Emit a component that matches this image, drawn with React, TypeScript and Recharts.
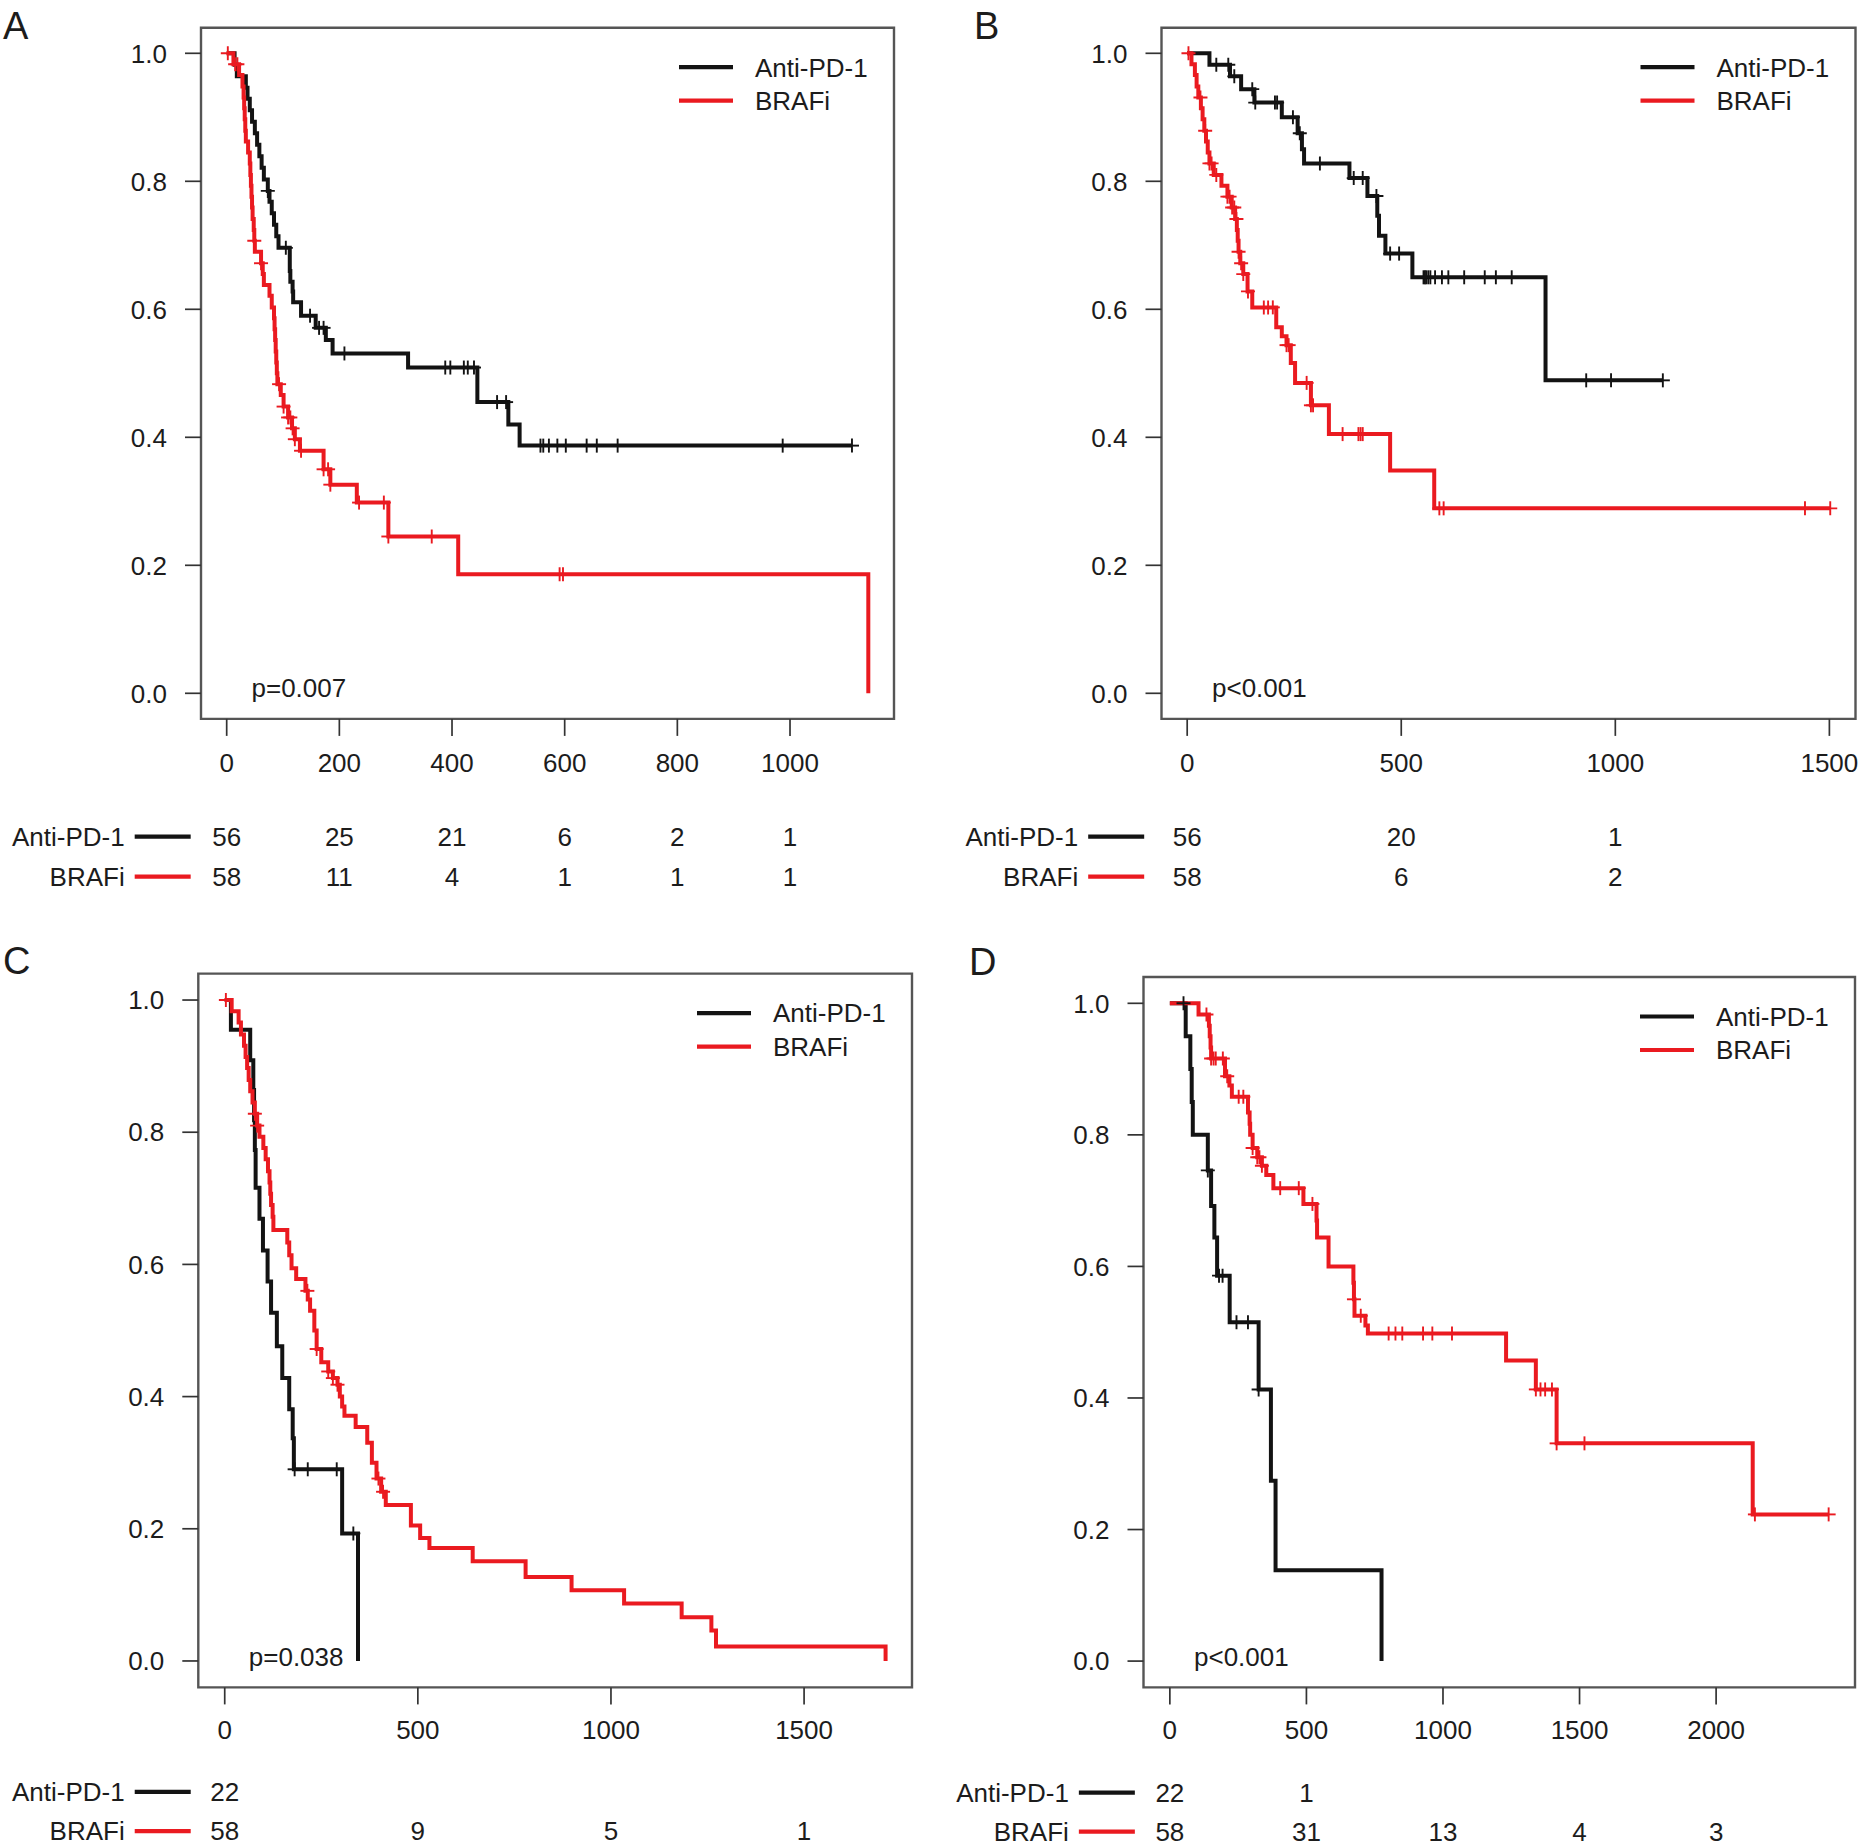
import React from 'react';
import { ComposedChart, Line, Scatter, XAxis, YAxis, ReferenceArea } from 'recharts';

const FONT = '"Liberation Sans", Arial, Helvetica, sans-serif';
const BLACK = '#131313';
const RED = '#ea1a20';
const TEXT = '#1c1c1c';
const X_TICK = 17;

type Step = [number, number];

// ---- Panel A ----
const antiA: Step[] = [[0, 1], [14, 0.982], [18, 0.964], [34, 0.946], [37, 0.929], [41, 0.911], [45, 0.893], [50, 0.875], [54, 0.857], [58, 0.839], [62, 0.821], [66, 0.803], [73, 0.785], [76, 0.768], [80, 0.75], [84, 0.732], [88, 0.714], [92, 0.696], [112, 0.66], [113, 0.643], [117, 0.628], [118, 0.611], [132, 0.59], [158, 0.571], [176, 0.552], [188, 0.531], [322, 0.509], [445, 0.455], [500, 0.42], [520, 0.387]];
const antiAEnd = 1110;
const antiACensor = [73, 105, 148, 164, 172, 209, 388, 397, 421, 428, 439, 480, 496, 557, 562, 572, 587, 602, 639, 657, 694, 987, 1110];
const brafA: Step[] = [[0, 1], [12, 0.983], [22, 0.966], [28, 0.948], [30, 0.931], [31, 0.914], [32, 0.897], [33, 0.879], [34, 0.862], [38, 0.845], [41, 0.828], [42, 0.81], [43, 0.793], [44, 0.776], [45, 0.759], [46, 0.741], [48, 0.724], [49, 0.707], [50, 0.69], [61, 0.672], [64, 0.655], [66, 0.638], [76, 0.621], [80, 0.603], [84, 0.586], [85, 0.569], [86, 0.552], [87, 0.534], [88, 0.517], [89, 0.5], [90, 0.483], [96, 0.466], [101, 0.448], [109, 0.431], [116, 0.414], [121, 0.397], [130, 0.379], [172, 0.35], [184, 0.326], [231, 0.298], [287, 0.245], [411, 0.186], [1139, 0]];
const brafAEnd = 1139;
const brafACensor = [2, 15, 19, 49, 61, 93, 101, 109, 113, 117, 121, 132, 172, 180, 184, 235, 279, 287, 364, 591, 597];
const ticksA = [0, 200, 400, 600, 800, 1000];
const riskTimesA = [0, 200, 400, 600, 800, 1000];
const riskAntiA = [56, 25, 21, 6, 2, 1];
const riskBrafA = [58, 11, 4, 1, 1, 1];

// ---- Panel B ----
const antiB: Step[] = [[0, 1], [52, 0.982], [100, 0.964], [126, 0.944], [157, 0.923], [221, 0.9], [258, 0.875], [268, 0.85], [273, 0.828], [379, 0.805], [421, 0.777], [444, 0.746], [448, 0.715], [463, 0.687], [526, 0.65], [837, 0.489]];
const antiBEnd = 1111;
const antiBCensor = [68, 96, 110, 152, 159, 205, 210, 247, 263, 310, 389, 410, 442, 474, 495, 552, 555, 558, 563, 568, 579, 595, 610, 647, 695, 721, 758, 932, 990, 1111];
const brafB: Step[] = [[0, 1], [10, 0.983], [18, 0.966], [22, 0.948], [26, 0.931], [32, 0.914], [36, 0.897], [40, 0.879], [44, 0.862], [48, 0.845], [52, 0.828], [62, 0.81], [80, 0.793], [94, 0.776], [104, 0.759], [112, 0.741], [116, 0.724], [118, 0.707], [120, 0.69], [124, 0.672], [131, 0.655], [141, 0.628], [152, 0.603], [208, 0.572], [221, 0.558], [232, 0.544], [242, 0.516], [252, 0.485], [289, 0.45], [331, 0.405], [474, 0.348], [577, 0.289]];
const brafBEnd = 1502;
const brafBCensor = [3, 31, 42, 52, 57, 68, 94, 99, 105, 110, 115, 120, 126, 131, 142, 179, 189, 200, 232, 237, 279, 289, 294, 363, 400, 405, 410, 589, 599, 1443, 1502];
const ticksB = [0, 500, 1000, 1500];
const riskTimesB = [0, 500, 1000];
const riskAntiB = [56, 20, 1];
const riskBrafB = [58, 6, 2];

// ---- Panel C ----
const antiC: Step[] = [[0, 1], [16, 0.955], [66, 0.909], [74, 0.864], [76, 0.818], [78, 0.773], [80, 0.716], [90, 0.669], [99, 0.621], [111, 0.574], [120, 0.527], [135, 0.476], [149, 0.428], [167, 0.381], [176, 0.337], [179, 0.29], [304, 0.193], [345, 0]];
const antiCEnd = 345;
const antiCCensor = [181, 215, 290, 333];
const brafC: Step[] = [[0, 1], [18, 0.983], [36, 0.966], [42, 0.948], [50, 0.931], [54, 0.914], [58, 0.897], [62, 0.879], [66, 0.862], [72, 0.845], [78, 0.828], [84, 0.81], [90, 0.793], [100, 0.776], [106, 0.759], [112, 0.741], [116, 0.724], [118, 0.707], [120, 0.69], [124, 0.672], [126, 0.652], [162, 0.633], [167, 0.614], [173, 0.594], [185, 0.578], [209, 0.56], [215, 0.547], [221, 0.53], [232, 0.5], [238, 0.472], [250, 0.452], [268, 0.438], [280, 0.428], [292, 0.418], [298, 0.4], [304, 0.385], [310, 0.371], [339, 0.354], [369, 0.33], [381, 0.3], [393, 0.276], [405, 0.256], [417, 0.236], [482, 0.205], [506, 0.186], [530, 0.171], [642, 0.151], [779, 0.127], [898, 0.107], [1034, 0.087], [1183, 0.066], [1260, 0.046], [1272, 0.022], [1711, 0]];
const brafCEnd = 1711;
const brafCCensor = [3, 78, 84, 214, 238, 268, 280, 292, 398, 410];
const ticksC = [0, 500, 1000, 1500];
const riskTimesC = [0, 500, 1000, 1500];
const riskAntiC = [22, null, null, null];
const riskBrafC = [58, 9, 5, 1];

// ---- Panel D ----
const antiD: Step[] = [[0, 1], [58, 0.95], [75, 0.9], [80, 0.85], [84, 0.8], [139, 0.746], [151, 0.692], [163, 0.644], [173, 0.586], [219, 0.515], [325, 0.413], [370, 0.274], [387, 0.138], [775, 0]];
const antiDEnd = 775;
const antiDCensor = [50, 139, 180, 193, 244, 286, 325];
const brafD: Step[] = [[0, 1], [105, 0.983], [143, 0.966], [146, 0.95], [149, 0.933], [151, 0.916], [202, 0.889], [218, 0.875], [227, 0.858], [286, 0.834], [292, 0.817], [294, 0.8], [303, 0.78], [320, 0.766], [337, 0.753], [353, 0.739], [379, 0.719], [489, 0.695], [537, 0.67], [539, 0.644], [581, 0.6], [672, 0.575], [674, 0.55], [676, 0.525], [716, 0.51], [725, 0.498], [1231, 0.457], [1340, 0.413], [1416, 0.331], [2134, 0.223]];
const brafDEnd = 2412;
const brafDCensor = [134, 151, 160, 168, 194, 210, 252, 269, 303, 320, 328, 337, 404, 472, 522, 674, 699, 801, 826, 851, 927, 961, 1033, 1340, 1357, 1374, 1399, 1416, 1518, 2142, 2412];
const ticksD = [0, 500, 1000, 1500, 2000];
const riskTimesD = [0, 500, 1000, 1500, 2000];
const riskAntiD = [22, 1, null, null, null];
const riskBrafD = [58, 31, 13, 4, 3];

const yTicks = [0, 0.2, 0.4, 0.6, 0.8, 1.0];

const survAt = (steps: Step[], t: number) => {
  let s = steps[0][1];
  for (const [tt, ss] of steps) if (tt <= t) s = ss;
  return s;
};
const lineData = (steps: Step[], end: number) => {
  const pts = steps.map(([t, s]) => ({ t, s }));
  const last = steps[steps.length - 1];
  if (end > last[0]) pts.push({ t: end, s: last[1] });
  return pts;
};
const censorData = (steps: Step[], times: number[]) => times.map((t) => ({ t, s: survAt(steps, t) }));

const Plus = (p: any) => {
  const { cx, cy, color } = p;
  if (cx == null || cy == null) return null;
  return (
    <g stroke={color} strokeWidth={1.9}>
      <line x1={cx - 7} x2={cx + 7} y1={cy} y2={cy} />
      <line x1={cx} x2={cx} y1={cy - 7} y2={cy + 7} />
    </g>
  );
};

const RiskTick = (props: any) => {
  const { x, y, payload, cfg } = props;
  const v = payload.value;
  const b = y - X_TICK;
  const i = cfg.riskTimes.indexOf(v);
  const a = i >= 0 ? cfg.riskAnti[i] : null;
  const r = i >= 0 ? cfg.riskBraf[i] : null;
  const [r1, r2] = cfg.rowY;
  const lx = x - cfg.riskGap;
  return (
    <g fontFamily={FONT} fontSize={26} fill={TEXT}>
      <text x={x} y={b + cfg.labelY} textAnchor="middle">{v}</text>
      {a != null && <text x={x} y={b + r1} textAnchor="middle">{a}</text>}
      {r != null && <text x={x} y={b + r2} textAnchor="middle">{r}</text>}
      {v === 0 && (
        <g>
          <text x={lx} y={b + r1} textAnchor="end">Anti-PD-1</text>
          <text x={lx} y={b + r2} textAnchor="end">BRAFi</text>
          <line x1={lx + 10} x2={lx + 66} y1={b + r1 - 9.3} y2={b + r1 - 9.3} stroke={BLACK} strokeWidth={4.2} />
          <line x1={lx + 10} x2={lx + 66} y1={b + r2 - 9.3} y2={b + r2 - 9.3} stroke={RED} strokeWidth={4.2} />
        </g>
      )}
    </g>
  );
};

const panels = [
  {
    id: 'A', left: 0, top: 0, width: 930, height: 900,
    box: { l: 201, t: 27.7, r: 894, b: 718.9 }, xDomain: [-45.6, 1184.6], ticks: ticksA,
    anti: antiA, antiEnd: antiAEnd, antiCensor: antiACensor, braf: brafA, brafEnd: brafAEnd, brafCensor: brafACensor,
    riskTimes: riskTimesA, riskAnti: riskAntiA, riskBraf: riskBrafA, riskGap: 102, labelY: 53.3, rowY: [127, 167],
    p: 'p=0.007', letter: { x: 3, y: 39 },
  },
  {
    id: 'B', left: 930, top: 0, width: 933, height: 900,
    box: { l: 1161.5, t: 27.7, r: 1855.5, b: 718.9 }, xDomain: [-60, 1561], ticks: ticksB,
    anti: antiB, antiEnd: antiBEnd, antiCensor: antiBCensor, braf: brafB, brafEnd: brafBEnd, brafCensor: brafBCensor,
    riskTimes: riskTimesB, riskAnti: riskAntiB, riskBraf: riskBrafB, riskGap: 109, labelY: 53.3, rowY: [127, 167],
    p: 'p<0.001', letter: { x: 974, y: 39 },
  },
  {
    id: 'C', left: 0, top: 940, width: 930, height: 907,
    box: { l: 198.3, t: 973.6, r: 912, b: 1687.4 }, xDomain: [-68.4, 1779.4], ticks: ticksC,
    anti: antiC, antiEnd: antiCEnd, antiCensor: antiCCensor, braf: brafC, brafEnd: brafCEnd, brafCensor: brafCCensor,
    riskTimes: riskTimesC, riskAnti: riskAntiC, riskBraf: riskBrafC, riskGap: 100, labelY: 52, rowY: [113.8, 153],
    p: 'p=0.038', letter: { x: 3, y: 974 },
  },
  {
    id: 'D', left: 930, top: 940, width: 933, height: 907,
    box: { l: 1143.5, t: 977, r: 1855, b: 1687.4 }, xDomain: [-96.5, 2508.5], ticks: ticksD,
    anti: antiD, antiEnd: antiDEnd, antiCensor: antiDCensor, braf: brafD, brafEnd: brafDEnd, brafCensor: brafDCensor,
    riskTimes: riskTimesD, riskAnti: riskAntiD, riskBraf: riskBrafD, riskGap: 101, labelY: 52, rowY: [114.5, 153.5],
    p: 'p<0.001', letter: { x: 969, y: 975 },
  },
];

const KMPanel = ({ cfg }: { cfg: any }) => {
  const { box } = cfg;
  return (
    <div style={{ position: 'absolute', left: cfg.left, top: cfg.top }}>
      <ComposedChart
        width={cfg.width}
        height={cfg.height}
        margin={{ top: box.t - cfg.top, right: cfg.left + cfg.width - box.r, left: 0, bottom: 0 }}
      >
        <XAxis
          type="number" dataKey="t" domain={cfg.xDomain} ticks={cfg.ticks} allowDataOverflow interval={0}
          height={cfg.top + cfg.height - box.b} axisLine={false} tickSize={X_TICK} tickMargin={0}
          tickLine={{ stroke: '#333', strokeWidth: 1.7 }}
          tick={(p: any) => <RiskTick {...p} cfg={cfg} />}
        />
        <YAxis
          type="number" dataKey="s" domain={[-0.04, 1.04]} ticks={yTicks} allowDataOverflow interval={0}
          width={box.l - cfg.left} axisLine={false} tickSize={16} tickMargin={18}
          tickLine={{ stroke: '#333', strokeWidth: 1.7 }}
          tickFormatter={(v: number) => v.toFixed(1)}
          tick={{ fontSize: 26, fill: TEXT, fontFamily: FONT }}
        />
        <ReferenceArea x1={cfg.xDomain[0]} x2={cfg.xDomain[1]} y1={-0.04} y2={1.04} fill="none" fillOpacity={0} stroke="#555" strokeWidth={2.4} ifOverflow="visible" />
        <Line data={lineData(cfg.anti, cfg.antiEnd)} dataKey="s" type="stepAfter" stroke={BLACK} strokeWidth={4} dot={false} isAnimationActive={false} />
        <Line data={lineData(cfg.braf, cfg.brafEnd)} dataKey="s" type="stepAfter" stroke={RED} strokeWidth={4} dot={false} isAnimationActive={false} />
        <Scatter data={censorData(cfg.anti, cfg.antiCensor)} dataKey="s" isAnimationActive={false} shape={(p: any) => <Plus {...p} color={BLACK} />} />
        <Scatter data={censorData(cfg.braf, cfg.brafCensor)} dataKey="s" isAnimationActive={false} shape={(p: any) => <Plus {...p} color={RED} />} />
      </ComposedChart>
    </div>
  );
};

const Overlay = () => (
  <svg width={1863} height={1847} style={{ position: 'absolute', left: 0, top: 0, pointerEvents: 'none' }}>
    {panels.map((c) => {
      const { box } = c;
      const y1 = box.t + 39.5;
      const y2 = box.t + 73;
      return (
        <g key={c.id} fontFamily={FONT} fill={TEXT}>
          <text x={c.letter.x} y={c.letter.y} fontSize={38}>{c.id}</text>
          <line x1={box.r - 215} x2={box.r - 161} y1={y1} y2={y1} stroke={BLACK} strokeWidth={4.2} />
          <line x1={box.r - 215} x2={box.r - 161} y1={y2} y2={y2} stroke={RED} strokeWidth={4.2} />
          <text x={box.r - 139} y={y1 + 9.3} fontSize={26}>Anti-PD-1</text>
          <text x={box.r - 139} y={y2 + 9.3} fontSize={26}>BRAFi</text>
          <text x={box.l + 50.5} y={box.b - 21.5} fontSize={26}>{c.p}</text>
        </g>
      );
    })}
  </svg>
);

export default function App() {
  return (
    <div style={{ position: 'absolute', left: 0, top: 0, width: 1863, height: 1847, background: '#fff', fontFamily: FONT }}>
      {panels.map((c) => (
        <KMPanel key={c.id} cfg={c} />
      ))}
      <Overlay />
    </div>
  );
}
